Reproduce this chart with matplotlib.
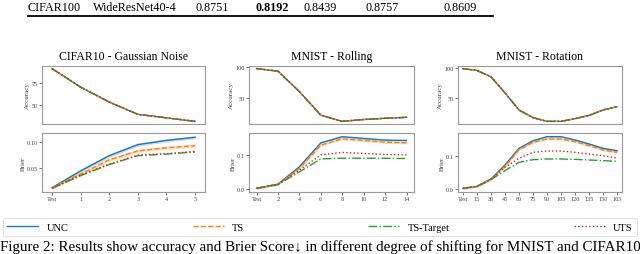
import matplotlib.pyplot as plt

plt.rcParams['font.family'] = ['Liberation Serif', 'DejaVu Serif']

# Table row above the figure
table_row = ['CIFAR100', 'WideResNet40-4', '0.8751', '0.8192', '0.8439', '0.8757', '0.8609']
table_x = [28, 93, 196, 256, 303, 366, 443]

# CIFAR10 - Gaussian Noise
cifar_x = ['Test', '1', '2', '3', '4', '5']
cifar_acc = [91, 70, 53, 39, 35, 31]
cifar_unc = [0.013, 0.045, 0.074, 0.095, 0.103, 0.109]
cifar_ts = [0.013, 0.039, 0.066, 0.083, 0.089, 0.093]
cifar_tst = [0.012, 0.036, 0.057, 0.074, 0.077, 0.081]
cifar_uts = [0.012, 0.037, 0.058, 0.075, 0.078, 0.082]

# MNIST - Rolling
roll_x = ['Test', '2', '4', '6', '8', '10', '12', '14']
roll_acc = [98, 94, 61, 23, 13, 16, 18, 19.5]
roll_unc = [0.002, 0.014, 0.065, 0.135, 0.153, 0.148, 0.143, 0.142]
roll_ts = [0.002, 0.014, 0.060, 0.128, 0.147, 0.142, 0.137, 0.135]
roll_tst = [0.002, 0.013, 0.050, 0.088, 0.090, 0.090, 0.090, 0.089]
roll_uts = [0.002, 0.014, 0.055, 0.100, 0.107, 0.104, 0.101, 0.100]

# MNIST - Rotation
rot_x = ['Test', '15', '30', '45', '60', '75', '90', '105', '120', '135', '150', '165']
rot_acc = [99, 96, 85.5, 58.6, 30, 17.2, 11, 11, 15.5, 21, 30, 35.5]
rot_unc = [0.002, 0.008, 0.030, 0.072, 0.122, 0.145, 0.157, 0.157, 0.147, 0.135, 0.122, 0.115]
rot_ts = [0.002, 0.008, 0.030, 0.068, 0.118, 0.140, 0.150, 0.150, 0.142, 0.130, 0.117, 0.110]
rot_tst = [0.002, 0.008, 0.028, 0.055, 0.080, 0.088, 0.090, 0.090, 0.089, 0.087, 0.085, 0.083]
rot_uts = [0.002, 0.008, 0.029, 0.065, 0.092, 0.110, 0.114, 0.114, 0.110, 0.105, 0.100, 0.093]

W, H = 640, 255
fig = plt.figure(figsize=(W / 100, H / 100), dpi=100)


def box(x0, y0, x1, y1):
    return [x0 / W, 1 - y1 / H, (x1 - x0) / W, (y1 - y0) / H]


styles = [('UNC', '#1f77b4', '-'), ('TS', '#ff7f0e', '--'),
          ('TS-Target', '#2ca02c', '-.'), ('UTS', '#d62728', ':')]


def style_ax(ax):
    for s in ax.spines.values():
        s.set_color('#999999')
        s.set_linewidth(0.8)
    ax.tick_params(labelsize=4.5, length=2, width=0.5, colors='#444444', pad=1)


panels = [
    ('CIFAR10 - Gaussian Noise', cifar_x, cifar_acc, [cifar_unc, cifar_ts, cifar_tst, cifar_uts],
     42, 205, [50, 75], [0.05, 0.10], '%.2f'),
    ('MNIST - Rolling', roll_x, roll_acc, [roll_unc, roll_ts, roll_tst, roll_uts],
     249, 414, [50, 100], [0.0, 0.1], '%.1f'),
    ('MNIST - Rotation', rot_x, rot_acc, [rot_unc, rot_ts, rot_tst, rot_uts],
     458, 622, [50, 100], [0.0, 0.1], '%.1f'),
]

handles = []
for title, xl, acc, briers, x0, x1, ayt, byt, bfmt in panels:
    xs = list(range(len(xl)))
    ax1 = fig.add_axes(box(x0, 67, x1, 125))
    ax2 = fig.add_axes(box(x0, 134, x1, 193))
    for (name, c, ls), br in zip(styles, briers):
        ax1.plot(xs, acc, color=c, ls=ls, lw=1)
        h, = ax2.plot(xs, br, color=c, ls=ls, lw=1, label=name)
        if name in ('UNC', 'TS'):
            ax2.fill_between(xs, [v - 0.003 for v in br], [v + 0.003 for v in br],
                             color=c, alpha=0.25, lw=0)
        if title.startswith('CIFAR'):
            handles.append(h)
    for ax in (ax1, ax2):
        style_ax(ax)
        ax.set_xlim(-0.35, len(xs) - 0.65)
    ax1.set_xticks([])
    ax1.set_yticks(ayt)
    ax1.set_ylabel('Accuracy', fontsize=5, color='#444444', labelpad=1)
    ax1.set_title(title, fontsize=8.5, pad=5)
    ax2.set_xticks(xs)
    ax2.set_xticklabels(xl)
    ax2.set_yticks(byt)
    ax2.set_yticklabels([bfmt % v for v in byt])
    ax2.set_ylabel('Brier', fontsize=5, color='#444444', labelpad=1)

leg = fig.legend(handles=handles, loc='lower left', ncol=4, mode='expand',
                 bbox_to_anchor=(3 / W, 1 - 237 / H, 634 / W, 20 / H),
                 fontsize=7.5, frameon=True, handlelength=3, borderaxespad=0)
leg.get_frame().set_edgecolor('#dddddd')
leg.get_frame().set_linewidth(0.8)

for txt, x in zip(table_row, table_x):
    fig.text(x / W, 1 - 8 / H, txt, fontsize=8.7, va='center',
             fontweight='bold' if txt == '0.8192' else 'normal')
fig.add_artist(plt.Line2D([28 / W, 493 / W], [1 - 17 / H, 1 - 17 / H], color='black', lw=1.3))

fig.text(0 / W, 1 - 247 / H,
         'Figure 2: Results show accuracy and Brier Score\u2193 in different degree of shifting for MNIST and CIFAR10',
         fontsize=10.8, va='center')

fig.savefig('out.png', dpi=100)
